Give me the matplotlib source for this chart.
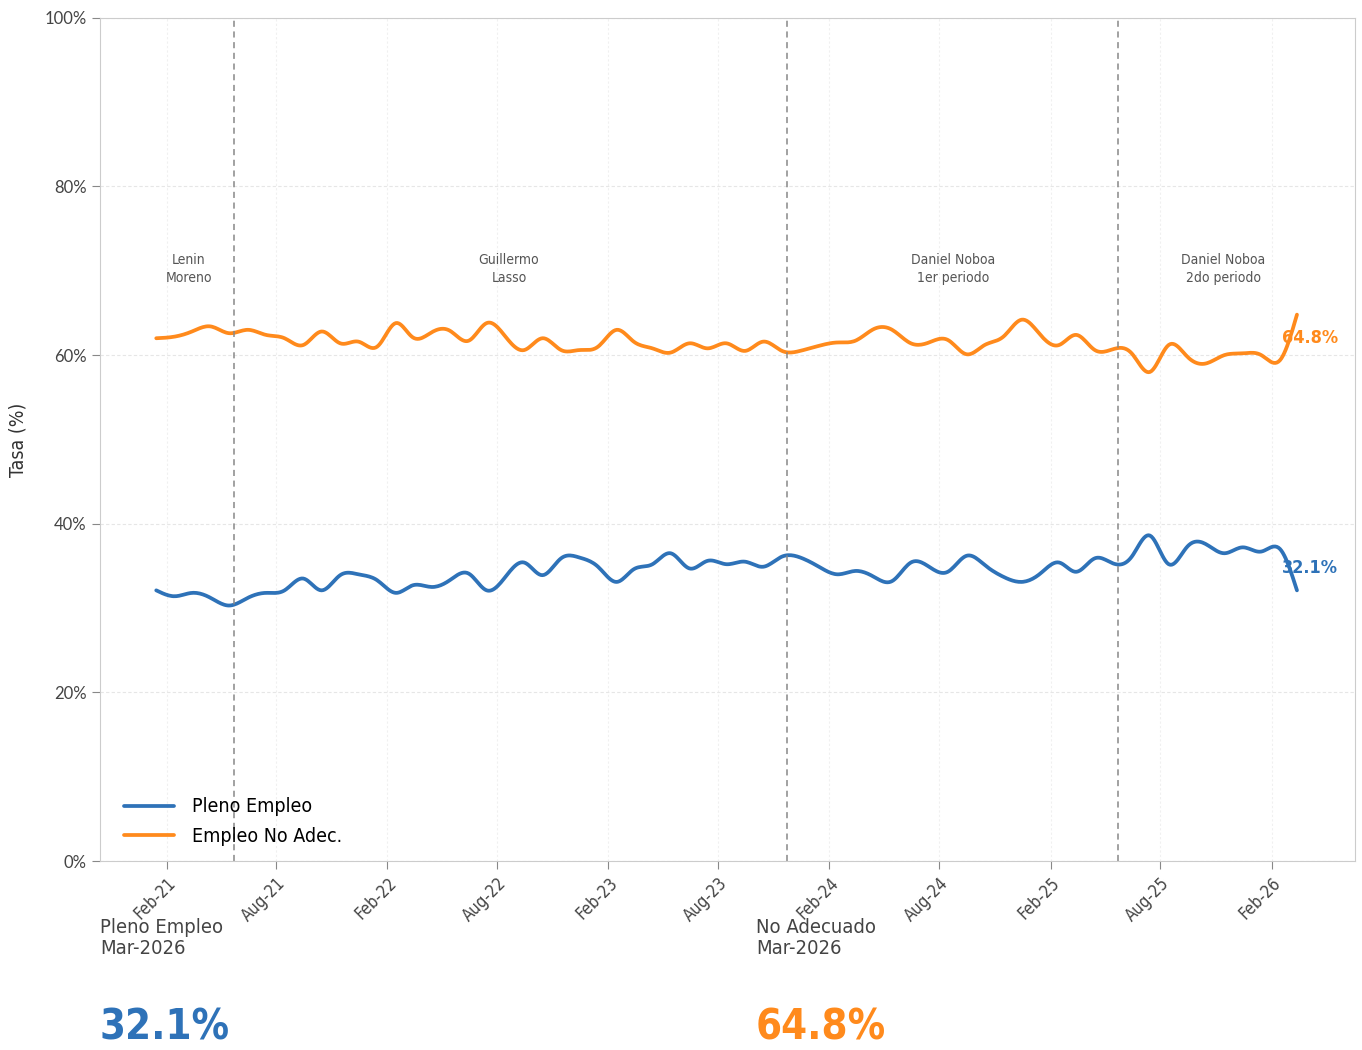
import numpy as np
import pandas as pd
import matplotlib
matplotlib.use("Agg")
import matplotlib.pyplot as plt
import matplotlib.dates as mdates
from matplotlib import font_manager

# try to find a narrow / condensed face, the original uses one
fuente = None
estira = 'normal'
for f in font_manager.fontManager.ttflist:
    nm = f.name.lower()
    if 'narrow' in nm or 'condensed' in nm or f.stretch in ('condensed', 'semi-condensed', 'extra-condensed'):
        if f.weight in (400, 'normal', 'regular') and f.style == 'normal':
            fuente = f.name
            estira = f.stretch
            break
if fuente is None:
    fuente = 'Roboto'
plt.rcParams['font.family'] = [fuente, 'DejaVu Sans']
plt.rcParams['font.stretch'] = estira

# monthly data, Jan-2021 .. Mar-2026
fechas = pd.date_range("2021-01-01", periods=63, freq="MS") + pd.Timedelta(days=14)
pleno = [32.1, 31.4, 31.8, 31.2, 30.3, 31.2, 31.8, 32.1, 33.5, 32.1,
         33.9, 34.0, 33.3, 31.8, 32.7, 32.5, 33.3, 34.1, 32.1, 33.7,
         35.4, 33.9, 35.9, 36.0, 34.9, 33.1, 34.6, 35.2, 36.5, 34.7,
         35.6, 35.2, 35.5, 34.9, 36.1, 36.0, 34.9, 34.0, 34.4, 33.7,
         33.2, 35.4, 34.9, 34.3, 36.2, 35.1, 33.7, 33.1, 34.1, 35.4,
         34.3, 35.9, 35.3, 36.1, 38.6, 35.2, 37.3, 37.6, 36.5, 37.2,
         36.7, 37.0, 32.1]
no_adec = [62.0, 62.2, 62.8, 63.4, 62.6, 63.0, 62.4, 62.0, 61.2, 62.8,
           61.4, 61.6, 61.0, 63.8, 62.1, 62.7, 62.9, 61.7, 63.8, 62.2,
           60.6, 62.0, 60.6, 60.6, 61.0, 63.0, 61.6, 60.8, 60.3, 61.4,
           60.8, 61.4, 60.5, 61.6, 60.5, 60.5, 61.1, 61.5, 61.7, 63.1,
           63.0, 61.4, 61.5, 61.8, 60.1, 61.2, 62.2, 64.2, 62.4, 61.2,
           62.4, 60.6, 60.7, 60.2, 58.0, 61.2, 59.8, 59.0, 60.0, 60.2,
           60.0, 59.4, 64.8]

cambios = ["2021-05-24", "2023-11-23", "2025-05-24"]
periodos = ["Lenin\nMoreno", "Guillermo\nLasso", "Daniel Noboa\n1er periodo", "Daniel Noboa\n2do periodo"]
periodo_pos = ["2021-03-10", "2022-08-21", "2024-08-24", "2025-11-13"]

azul = "#2e72b8"
naranja = "#ff8a1c"


def suavizar(x, y, n=12):
    # natural cubic spline through the points, just for drawing
    x = np.asarray(x, float)
    y = np.asarray(y, float)
    m = len(x)
    h = np.diff(x)
    A = np.zeros((m, m))
    b = np.zeros(m)
    A[0, 0] = 1
    A[-1, -1] = 1
    for i in range(1, m - 1):
        A[i, i - 1] = h[i - 1]
        A[i, i] = 2 * (h[i - 1] + h[i])
        A[i, i + 1] = h[i]
        b[i] = 6 * ((y[i + 1] - y[i]) / h[i] - (y[i] - y[i - 1]) / h[i - 1])
    M = np.linalg.solve(A, b)
    xs, ys = [], []
    for i in range(m - 1):
        t = np.linspace(x[i], x[i + 1], n, endpoint=False)
        a = x[i + 1] - t
        c = t - x[i]
        s = (M[i] * a**3 + M[i + 1] * c**3) / (6 * h[i]) \
            + (y[i] / h[i] - M[i] * h[i] / 6) * a \
            + (y[i + 1] / h[i] - M[i + 1] * h[i] / 6) * c
        xs.extend(t)
        ys.extend(s)
    xs.append(x[-1])
    ys.append(y[-1])
    return np.array(xs), np.array(ys)


fig = plt.figure(figsize=(13.62, 10.5), dpi=100)
ax = fig.add_axes([0.0734, 0.18, 0.9215, 0.803])

xn = mdates.date2num(fechas)
x1, y1 = suavizar(xn, pleno)
x2, y2 = suavizar(xn, no_adec)
ax.plot(x1, y1, color=azul, lw=2.7, label="Pleno Empleo", solid_capstyle='round')
ax.plot(x2, y2, color=naranja, lw=2.7, label="Empleo No Adec.", solid_capstyle='round')

for c in cambios:
    ax.axvline(mdates.date2num(pd.Timestamp(c)), color="#888888", ls=(0, (4, 3)), lw=1.1)

for txt, p in zip(periodos, periodo_pos):
    ax.text(mdates.date2num(pd.Timestamp(p)), 70.2, txt, ha='center', va='center',
            fontsize=10, color="#555555", linespacing=1.35)

# end labels
ax.text(xn[-1] - 24, 62.0, "%.1f%%" % no_adec[-1], color=naranja, fontsize=13,
        fontweight='bold', ha='left', va='center')
ax.text(xn[-1] - 24, 34.8, "%.1f%%" % pleno[-1], color=azul, fontsize=13,
        fontweight='bold', ha='left', va='center')

ax.set_xlim(mdates.date2num(pd.Timestamp("2020-10-14")), mdates.date2num(pd.Timestamp("2026-06-19")))
ax.set_ylim(0, 100)

ticks = pd.date_range("2021-02-01", "2026-02-01", freq="6MS")
ax.set_xticks(mdates.date2num(ticks))
ax.set_xticklabels([t.strftime("%b-%y") for t in ticks], rotation=45, ha='right',
                   rotation_mode='anchor', fontsize=12, color="#444444")
ax.set_yticks([0, 20, 40, 60, 80, 100])
ax.set_yticklabels(["0%", "20%", "40%", "60%", "80%", "100%"], fontsize=12,
                   color="#444444", family=['Lato', 'DejaVu Sans'])
ax.set_ylabel("Tasa (%)", fontsize=14, color="#333333", labelpad=12)

ax.grid(axis='y', color="#e6e6e6", ls=(0, (3, 2)), lw=0.8)
ax.grid(axis='x', color="#f0f0f0", ls=(0, (2, 2)), lw=0.8)
ax.set_axisbelow(True)
for s in ax.spines.values():
    s.set_color("#cccccc")
ax.tick_params(colors="#888888", length=6, labelcolor="#444444")

leg = ax.legend(loc='lower left', bbox_to_anchor=(0.005, -0.003), frameon=False,
                fontsize=14, handlelength=2.6, handletextpad=0.9, labelspacing=0.55)

# bottom summary
fig.text(100 / 1362, 1 - 938 / 1050, "Pleno Empleo\nMar-2026", fontsize=14.5, color="#444444",
         ha='left', va='center', linespacing=1.1)
fig.text(756 / 1362, 1 - 938 / 1050, "No Adecuado\nMar-2026", fontsize=14.5, color="#444444",
         ha='left', va='center', linespacing=1.1)
fig.text(100 / 1362, 1 - 1039 / 1050, "%.1f%%" % pleno[-1], fontsize=30, color=azul,
         fontweight='bold', ha='left', va='baseline')
fig.text(756 / 1362, 1 - 1039 / 1050, "%.1f%%" % no_adec[-1], fontsize=30, color=naranja,
         fontweight='bold', ha='left', va='baseline')

fig.savefig("out.png", dpi=100)
